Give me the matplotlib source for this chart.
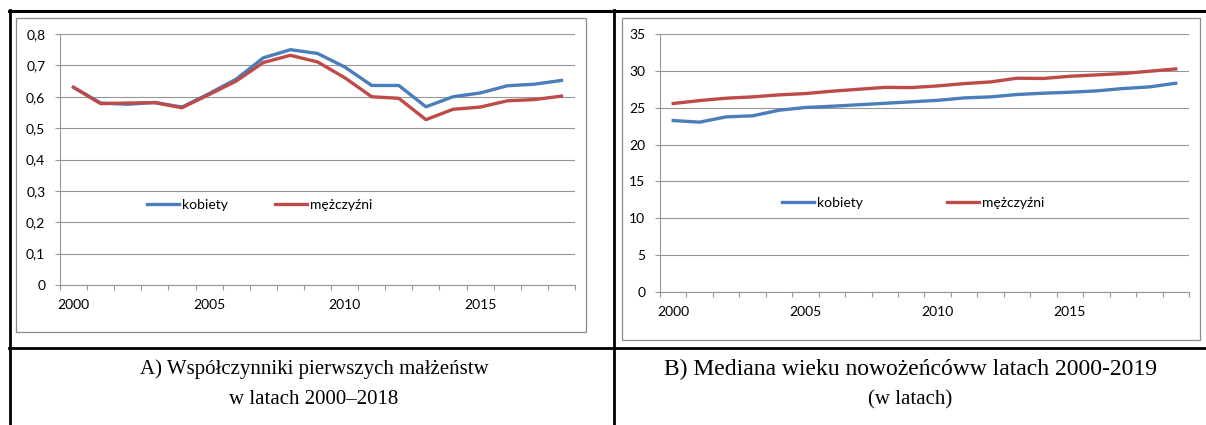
import matplotlib
matplotlib.use('Agg')
import matplotlib.pyplot as plt
from matplotlib.patches import Rectangle
from matplotlib.lines import Line2D
from matplotlib.ticker import FixedLocator, FuncFormatter

# chart A: first-marriage rates 2000-2018
years_a = list(range(2000, 2019))
kobiety_a = [0.630, 0.580, 0.576, 0.582, 0.567, 0.610, 0.656, 0.724, 0.750, 0.738,
             0.695, 0.636, 0.636, 0.568, 0.600, 0.612, 0.635, 0.640, 0.652]
mezczyzni_a = [0.630, 0.578, 0.580, 0.581, 0.565, 0.607, 0.650, 0.709, 0.732, 0.711,
               0.661, 0.600, 0.595, 0.527, 0.560, 0.567, 0.587, 0.591, 0.602]

# chart B: median age of newlyweds 2000-2019
years_b = list(range(2000, 2020))
kobiety_b = [23.26, 23.04, 23.76, 23.90, 24.66, 25.03, 25.20, 25.40, 25.60, 25.80,
             26.00, 26.33, 26.47, 26.79, 26.97, 27.10, 27.28, 27.60, 27.82, 28.32]
mezczyzni_b = [25.57, 25.97, 26.29, 26.47, 26.74, 26.92, 27.24, 27.50, 27.76, 27.73,
               27.96, 28.27, 28.50, 29.00, 28.97, 29.27, 29.45, 29.63, 29.95, 30.26]

labels = ['kobiety', 'mężczyźni']
caption_a = ['A) Współczynniki pierwszych małżeństw', 'w latach 2000–2018']
caption_b = ['B) Mediana wieku nowożeńcóww latach 2000-2019', '(w latach)']

BLUE = '#4A7EBB'
RED = '#BE4B48'
GRID = '#969696'

plt.rcParams['font.family'] = ['Lato', 'DejaVu Sans']

W, H = 1206, 425
fig = plt.figure(figsize=(W / 100, H / 100), dpi=100)


def rect(x0, y0, x1, y1):
    return [x0 / W, 1 - y1 / H, (x1 - x0) / W, (y1 - y0) / H]


def chart(box, frame, years, kob, mez, ymax, ystep, fmt, leg_xy, colsp):
    fig.add_artist(Rectangle((frame[0] / W, 1 - frame[3] / H),
                             (frame[2] - frame[0]) / W, (frame[3] - frame[1]) / H,
                             transform=fig.transFigure, facecolor='white',
                             edgecolor='#8c8c8c', lw=0.9, zorder=-1))
    ax = fig.add_axes(rect(*box))
    ax.set_facecolor('none')
    n = len(years)
    x = list(range(n))
    ax.plot(x, kob, color=BLUE, lw=2.4, solid_joinstyle='round', clip_on=False, zorder=3)
    ax.plot(x, mez, color=RED, lw=2.4, solid_joinstyle='round', clip_on=False, zorder=3)
    ax.set_xlim(-0.5, n - 0.5)
    ax.set_ylim(0, ymax)
    yt = [i * ystep for i in range(int(round(ymax / ystep)) + 1)]
    ax.set_yticks(yt)
    ax.yaxis.set_major_formatter(FuncFormatter(fmt))
    ax.grid(axis='y', color=GRID, lw=0.8)
    ax.set_axisbelow(True)
    # category boundaries as tick marks, labels every 5 years
    ax.xaxis.set_major_locator(FixedLocator([i - 0.5 for i in range(n + 1)]))
    ax.xaxis.set_major_formatter(FuncFormatter(lambda v, p: ''))
    lab_pos = [i for i in x if years[i] % 5 == 0]
    ax.xaxis.set_minor_locator(FixedLocator(lab_pos))
    ax.xaxis.set_minor_formatter(FuncFormatter(lambda v, p: str(years[int(round(v))])))
    ax.tick_params(axis='x', which='major', direction='out', length=3.6, width=0.8, color=GRID)
    ax.tick_params(axis='x', which='minor', length=0, pad=10, labelsize=10)
    ax.tick_params(axis='y', direction='out', length=3.6, width=0.8, color=GRID,
                   pad=7, labelsize=10)
    for s in ['top', 'right']:
        ax.spines[s].set_visible(False)
    for s in ['left', 'bottom']:
        ax.spines[s].set_color(GRID)
        ax.spines[s].set_linewidth(0.8)
    handles = [Line2D([], [], color=BLUE, lw=2.4), Line2D([], [], color=RED, lw=2.4)]
    ax.legend(handles, labels, loc='center left', bbox_to_anchor=leg_xy, ncol=2,
              frameon=False, handlelength=2.3, handletextpad=0.2, columnspacing=colsp,
              borderaxespad=0, borderpad=0, fontsize=10)
    return ax


def fmt_a(v, p):
    return '0' if abs(v) < 1e-9 else f'{v:.1f}'.replace('.', ',')


def fmt_b(v, p):
    return f'{v:.0f}'


chart((60, 34, 575, 285), (16, 18, 586, 332), years_a, kobiety_a, mezczyzni_a,
      0.8, 0.1, fmt_a, ((147 - 60) / 515, (285 - 205) / 251), 3.4)
chart((660, 34, 1189, 292), (622, 18, 1200, 340), years_b, kobiety_b, mezczyzni_b,
      35, 5, fmt_b, ((782 - 660) / 529, (292 - 203) / 258), 6.1)


# table borders
def hline(y, x0, x1, lw):
    fig.add_artist(Line2D([x0 / W, x1 / W], [1 - y / H, 1 - y / H], color='black', lw=lw))


def vline(x, y0, y1, lw):
    fig.add_artist(Line2D([x / W, x / W], [1 - y0 / H, 1 - y1 / H], color='black', lw=lw))


hline(11, 9, W, 2.2)
hline(348, 9, W, 2.0)
vline(10, 10, H, 2.0)
vline(614, 10, H, 2.0)

# captions
serif = ['Liberation Serif', 'DejaVu Serif']
for cx, lines, sizes in [(314, caption_a, (15, 15)), (910, caption_b, (17, 15))]:
    for cy, t, fs in zip([369, 400], lines, sizes):
        fig.text(cx / W, 1 - cy / H, t, ha='center', va='center', fontsize=fs,
                 family=serif)

fig.savefig('out.png', dpi=100)
